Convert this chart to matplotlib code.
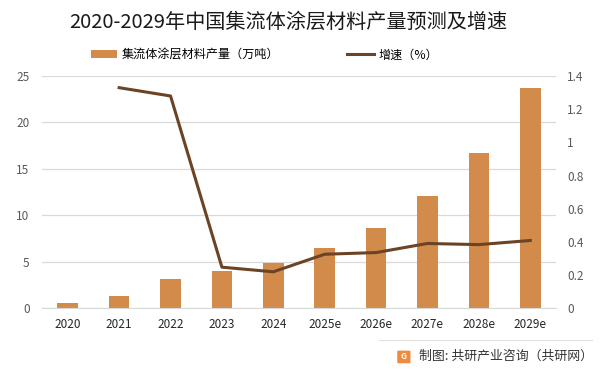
import matplotlib
matplotlib.use('Agg')
import matplotlib.pyplot as plt
from matplotlib.patches import FancyBboxPatch
import numpy as np

plt.rcParams['font.family'] = ['Noto Sans CJK SC', 'DejaVu Sans']

# 数据
years = ['2020', '2021', '2022', '2023', '2024', '2025e', '2026e', '2027e', '2028e', '2029e']
output = [0.57, 1.3, 3.1, 4.0, 4.88, 6.46, 8.65, 12.07, 16.7, 23.7]
growth = [None, 1.33, 1.28, 0.247, 0.219, 0.325, 0.335, 0.39, 0.383, 0.408]

bar_color = '#D38B4B'
line_color = '#6B4426'

fig = plt.figure(figsize=(6.01, 3.73), dpi=100)
ax = fig.add_axes([0.07, 0.174, 0.855, 0.622])
x = np.arange(len(years))

ax.bar(x, output, width=0.4, color=bar_color, label='集流体涂层材料产量（万吨）', zorder=2)
ax.set_ylim(0, 25)
ax.set_yticks([0, 5, 10, 15, 20, 25])
ax.set_xlim(-0.5, len(years) - 0.5)
ax.set_xticks(x)
ax.set_xticklabels(years)
ax.grid(axis='y', color='#D9D9D9', linewidth=0.9, zorder=0)
for s in ['top', 'left', 'right']:
    ax.spines[s].set_visible(False)
ax.spines['bottom'].set_color('#D9D9D9')
ax.tick_params(axis='y', length=0, labelsize=8.5, labelcolor='#595959', pad=9)
ax.tick_params(axis='x', length=0, labelsize=8.5, labelcolor='#262626', pad=7)

ax2 = ax.twinx()
gx = [i for i, g in enumerate(growth) if g is not None]
gy = [g for g in growth if g is not None]
ax2.plot(gx, gy, color=line_color, linewidth=2.2, label='增速（%）', zorder=3)
ax2.set_ylim(0, 1.4)
ax2.set_yticks([0, 0.2, 0.4, 0.6, 0.8, 1, 1.2, 1.4])
ax2.set_yticklabels(['0', '0.2', '0.4', '0.6', '0.8', '1', '1.2', '1.4'])
for s in ax2.spines.values():
    s.set_visible(False)
ax2.tick_params(axis='y', length=0, labelsize=8.5, labelcolor='#595959', pad=8)

# 标题与图例
fig.text(0.48, 0.94, '2020-2029年中国集流体涂层材料产量预测及增速', ha='center', va='center',
         fontsize=14.5, color='#1a1a1a')
h1, l1 = ax.get_legend_handles_labels()
h2, l2 = ax2.get_legend_handles_labels()
fig.legend(h1 + h2, l1 + l2, loc='center', bbox_to_anchor=(0.44, 0.853), ncol=2, frameon=False,
           fontsize=8.7, columnspacing=5.6, handlelength=2.2, handletextpad=0.4)

# 底部来源
fig.add_artist(plt.Line2D([0.63, 0.985], [0.088, 0.088], color='#E0E0E0', linewidth=0.8,
                          transform=fig.transFigure))
logo = FancyBboxPatch((0.663, 0.028), 0.018, 0.03, boxstyle='round,pad=0.002',
                      transform=fig.transFigure, facecolor='#F08A3C', edgecolor='none')
fig.add_artist(logo)
fig.text(0.672, 0.044, 'G', ha='center', va='center', fontsize=6, color='white', fontweight='bold')
fig.text(0.697, 0.044, '制图: 共研产业咨询（共研网）', ha='left', va='center', fontsize=9.3, color='#333333')

fig.savefig('out.png', dpi=100)
